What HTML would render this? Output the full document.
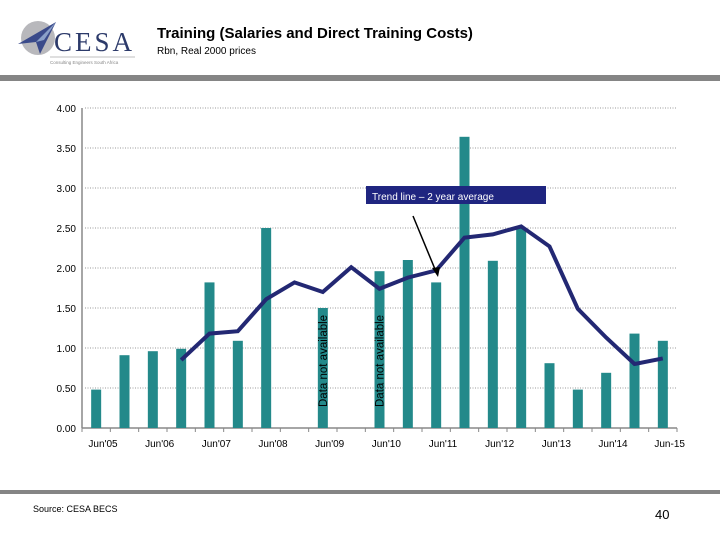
<!DOCTYPE html>
<html><head><meta charset="utf-8">
<style>
body{margin:0;width:720px;height:540px;background:#fff;overflow:hidden;font-family:"Liberation Sans",sans-serif;}
svg{display:block}
</style></head>
<body>
<svg id="c" width="720" height="540" xmlns="http://www.w3.org/2000/svg">
  <g>
    <circle cx="38" cy="38" r="17" fill="#b8b8bc"/>
    <polygon points="18,44 56,22 40,54 36,42" fill="#3a4a8a"/>
    <polygon points="36,42 56,22 44,40" fill="#8aa0c8"/>
    <text x="54" y="51" font-family="Liberation Serif, serif" font-size="27" fill="#2c3a6a" letter-spacing="3">CESA</text>
    <line x1="50" y1="57" x2="135" y2="57" stroke="#aaa" stroke-width="0.8"/>
    <text x="50" y="64" font-size="4.5" fill="#888">Consulting Engineers South Africa</text>
  </g>
  <text x="157" y="38" font-size="15" font-weight="bold" fill="#000">Training (Salaries and Direct Training Costs)</text>
  <text x="157" y="54" font-size="10" fill="#000">Rbn, Real 2000 prices</text>
  <rect x="0" y="75" width="720" height="6" fill="#858585"/>
  <rect x="0" y="490" width="720" height="4" fill="#858585"/>
  <text x="33" y="512" font-size="9" fill="#000">Source: CESA BECS</text>
  <text x="655" y="519" font-size="13" fill="#000">40</text>
  <g id="plot"></g>
</svg>
<script>
const categories = ["Jun'05","Dec'05","Jun'06","Dec'06","Jun'07","Dec'07","Jun'08","Dec'08","Jun'09","Dec'09","Jun'10","Dec'10","Jun'11","Dec'11","Jun'12","Dec'12","Jun'13","Dec'13","Jun'14","Dec'14","Jun-15"];
const barValues = [0.48,0.91,0.96,0.99,1.82,1.09,2.50,null,1.50,null,1.96,2.10,1.82,3.64,2.09,2.50,0.81,0.48,0.69,1.18,1.09];
const trendValues = [null,null,null,0.85,1.18,1.21,1.61,1.82,1.70,2.01,1.74,1.88,1.97,2.38,2.42,2.52,2.27,1.49,1.13,0.80,0.87];
const yTicks = [0,0.5,1,1.5,2,2.5,3,3.5,4];
const yTickLabels = ["0.00","0.50","1.00","1.50","2.00","2.50","3.00","3.50","4.00"];
const xLabels = ["Jun'05","Jun'06","Jun'07","Jun'08","Jun'09","Jun'10","Jun'11","Jun'12","Jun'13","Jun'14","Jun-15"];
const naIndices = [8,10];

const X0=82, X1=677, Y0=428, Y1=108, YMAX=4;
const step=(X1-X0)/categories.length;
const xC=i=>X0+step*(i+0.5);
const y=v=>Y0-(v/YMAX)*(Y0-Y1);
const NS="http://www.w3.org/2000/svg";
const g=document.getElementById('plot');
function mk(t,a){const e=document.createElementNS(NS,t);for(const k in a)e.setAttribute(k,a[k]);g.appendChild(e);return e;}

yTicks.forEach((v,i)=>{
  if(v>0){const l=mk('line',{x1:X0+3,x2:X1,y1:y(v),y2:y(v),stroke:'#999','stroke-dasharray':'1,1.5','stroke-width':1});
  
  }
  const t=mk('text',{x:X0-6,y:y(v)+4,'font-size':10,'text-anchor':'end',fill:'#000'});
  t.textContent=yTickLabels[i];
  
  
});
const ax=mk('line',{x1:X0,x2:X0,y1:Y1,y2:Y0,stroke:'#888','stroke-width':1.5});


const xa=mk('line',{x1:X0,x2:X1,y1:Y0,y2:Y0,stroke:'#888','stroke-width':1.5});


for(let i=0;i<=categories.length;i++){
  const tk=mk('line',{x1:X0+step*i,x2:X0+step*i,y1:Y0,y2:Y0+4,stroke:'#888'});
  
  
}
xLabels.forEach((s,k)=>{
  const t=mk('text',{x:X0+step*2*k+21,y:Y0+19,'font-size':10,'text-anchor':'middle',fill:'#000'});
  t.textContent=s;
  
  
});
barValues.forEach((v,i)=>{
  if(v==null)return;
  const b=mk('rect',{x:xC(i)-5,y:y(v),width:10,height:Y0-y(v),fill:'#23898a'});
  
  
});
naIndices.forEach(i=>{
  const t=mk('text',{x:0,y:0,'font-size':11.5,fill:'#000','transform':`translate(${xC(i)+4},407) rotate(-90)`});
  t.textContent='Data not available';
  
  
});
let pts=[];
trendValues.forEach((v,i)=>{if(v!=null)pts.push(xC(i).toFixed(1)+','+y(v).toFixed(1));});
const tl=mk('polyline',{points:pts.join(' '),fill:'none',stroke:'#232873','stroke-width':4,'stroke-linejoin':'miter'});


const box=mk('rect',{x:366,y:186,width:180,height:18,fill:'#1f2580'});


const bt=mk('text',{x:372,y:200,'font-size':10,fill:'#fff'});
bt.textContent='Trend line \u2013 2 year average';


const ar=mk('line',{x1:413,y1:216,x2:437,y2:274,stroke:'#000','stroke-width':1.5});


const ah=mk('polygon',{points:'438,277 432,268 440,267',fill:'#000'});


</script>
</body></html>
